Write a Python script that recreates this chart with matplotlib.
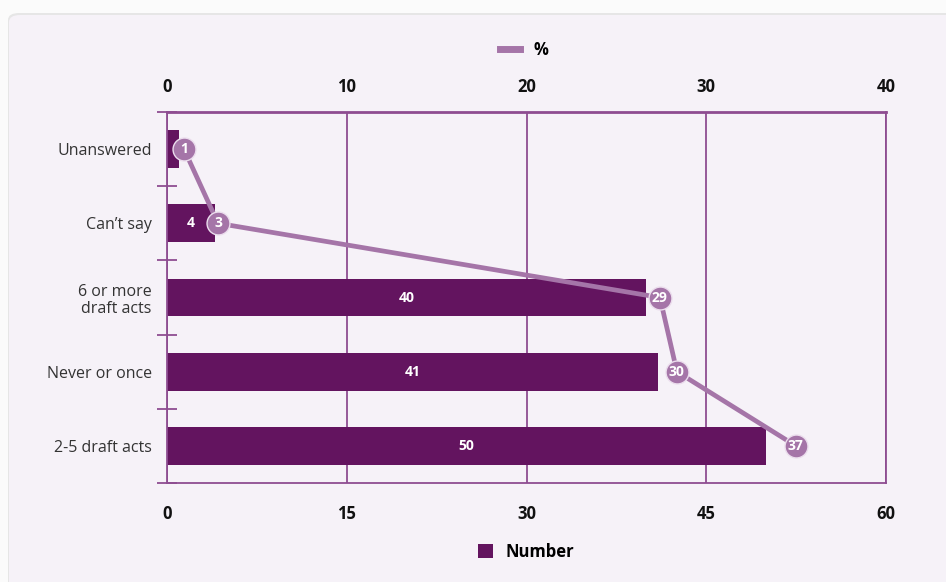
import matplotlib
matplotlib.use("Agg")
import matplotlib.pyplot as plt
from matplotlib.patches import FancyBboxPatch, Patch
from matplotlib.lines import Line2D

plt.rcParams['font.family'] = ['Open Sans', 'DejaVu Sans']

categories = ["Unanswered", "Can\u2019t say", "6 or more\ndraft acts", "Never or once", "2-5 draft acts"]
numbers = [1, 4, 40, 41, 50]
percents = [1, 3, 29, 30, 37]
bottom_ticks = [0, 15, 30, 45, 60]
top_ticks = [0, 10, 20, 30, 40]

BAR = "#63145F"
LINE = "#A575A8"
GRID = "#8E4D91"
BG = "#F6F2F8"

W, H = 946, 582
fig = plt.figure(figsize=(W / 100, H / 100), dpi=100)
fig.patch.set_facecolor("#FBFBFB")

# card background
shadow = FancyBboxPatch((8 / W, -0.05), 1.2, (H - 13) / H + 0.05,
                        boxstyle="round,pad=0,rounding_size=0.012",
                        transform=fig.transFigure, facecolor="#E6E6E6",
                        edgecolor="none", zorder=-20)
card = FancyBboxPatch((9 / W, -0.05), 1.2, (H - 15) / H + 0.05,
                      boxstyle="round,pad=0,rounding_size=0.012",
                      transform=fig.transFigure, facecolor=BG,
                      edgecolor="none", zorder=-19)
fig.patches.extend([shadow, card])

left, right = 167 / W, 886 / W
top, bottom = 1 - 112 / H, 1 - 483 / H
ax = fig.add_axes([left, bottom, right - left, top - bottom])
ax.set_facecolor("none")

y = list(range(len(categories)))
ax.barh(y, numbers, height=0.51, color=BAR, zorder=2)
ax.set_xlim(0, 60)
ax.set_ylim(len(categories) - 0.5, -0.5)
ax.set_xticks(bottom_ticks)
ax.set_xticklabels([str(t) for t in bottom_ticks], fontweight="bold", fontsize=12)
ax.tick_params(axis="x", length=0, pad=15.5, colors="#111111")
ax.set_yticks(y)
ax.set_yticklabels(categories, fontsize=11.5, color="#333333", linespacing=1.1)
ax.tick_params(axis="y", length=0, pad=11)
ax.set_yticks([i - 0.5 for i in range(len(categories) + 1)], minor=True)
ax.tick_params(axis="y", which="minor", direction="inout", length=14, width=1.3, color=GRID)
ax.grid(axis="x", color=GRID, linewidth=1.3, zorder=1)
ax.set_axisbelow(True)
for s in ["left", "bottom", "right", "top"]:
    ax.spines[s].set_color(GRID)
    ax.spines[s].set_linewidth(1.3)
ax.spines["top"].set_linewidth(2)

for i, v in enumerate(numbers):
    if v >= 3:
        ax.text(v / 2, i, str(v), color="white", fontweight="bold", fontsize=10,
                ha="center", va="center", zorder=3)

# top % axis (tick labels)
ax2 = ax.twiny()
ax2.set_xlim(0, 40)
ax2.set_xticks(top_ticks)
ax2.set_xticklabels([str(t) for t in top_ticks], fontweight="bold", fontsize=12)
ax2.tick_params(axis="x", length=0, pad=11.5, colors="#111111")
for s in ax2.spines.values():
    s.set_visible(False)

# % line (its own scale, as drawn in the reference)
ax3 = ax.twiny()
ax3.set_xlim(0, 42.3)
ax3.axis("off")
ax3.plot(percents, y, color=LINE, lw=3.4, marker="o", markersize=16.5,
         markerfacecolor=LINE, markeredgecolor="#EBDDED", markeredgewidth=1.0,
         zorder=4, solid_capstyle="round")
for i, p in enumerate(percents):
    ax3.text(p, i, str(p), color="white", fontweight="bold", fontsize=10,
             ha="center", va="center", zorder=5)

# legends
fig.legend(handles=[Line2D([0], [0], color=LINE, lw=5)], labels=["%"],
           loc="center", bbox_to_anchor=(524 / W, 1 - 50 / H), frameon=False,
           handlelength=1.2, handletextpad=0.8,
           prop={"weight": "bold", "size": 12})
fig.legend(handles=[Patch(facecolor=BAR, edgecolor="none")], labels=["Number"],
           loc="center", bbox_to_anchor=(526 / W, 1 - 552 / H), frameon=False,
           handlelength=0.9, handleheight=0.9, handletextpad=0.8,
           prop={"weight": "bold", "size": 12})

fig.savefig("out.png", dpi=100, facecolor=fig.get_facecolor())
